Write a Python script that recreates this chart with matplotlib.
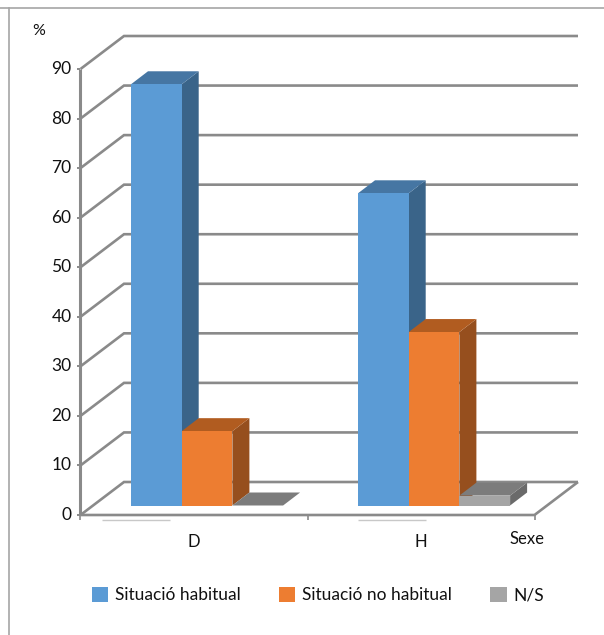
import matplotlib
matplotlib.use("Agg")
import matplotlib.pyplot as plt
from matplotlib.patches import Patch, Polygon
from matplotlib.lines import Line2D

plt.rcParams['font.family'] = ['Lato', 'DejaVu Sans']

# Dades llegides del grafic
categories = ['D', 'H']
series_names = ['Situació habitual', 'Situació no habitual', 'N/S']
habitual = [85, 63]
no_habitual = [15, 35]
ns = [0, 2]
y_ticks = [0, 10, 20, 30, 40, 50, 60, 70, 80, 90]

W, H = 604, 635
fig = plt.figure(figsize=(W / 100, H / 100), dpi=100)

# eixos situats en pixels: pla frontal del grafic
left, right, bottom, top = 80.5, 534.5, 515.0, 69.0
ax = fig.add_axes([left / W, 1 - bottom / H, (right - left) / W, (bottom - top) / H])
ax.set_xlim(0, 2)
ax.set_ylim(0, 90)
ax.axis('off')

px_x = 2 / (right - left)
px_y = 90 / (bottom - top)

# profunditat 3D
depth_x = 43.5 * px_x
depth_y = 33 * px_y
bar_dx = 17 * px_x
bar_dy = 13 * px_y
gap_dx = 13 * px_x
gap_dy = 9.5 * px_y
bar_w = 50.7 * px_x

GRID = '#8a8a8a'
front = ['#5b9bd5', '#ed7d31', '#a5a5a5']
top_c = ['#4676a3', '#b15c20', '#7c7c7c']
side_c = ['#3a6489', '#964f1e', '#6a6a6a']


def linia(xs, ys, color=GRID, lw=1.9, z=1):
    ax.add_line(Line2D(xs, ys, color=color, lw=lw, zorder=z, clip_on=False,
                       solid_capstyle='butt', solid_joinstyle='miter'))


# graella: paret del fons i paret esquerra
for v in y_ticks:
    linia([0, depth_x, 2 + depth_x], [v, v + depth_y, v + depth_y], z=1)
    linia([-3 * px_x, 0], [v, v], lw=1.4, z=2)
    ax.text(-9 * px_x, v, str(v), ha='right', va='center', fontsize=12.5,
            color='#111111', clip_on=False)

# eix vertical i terra
linia([0, 0], [0, 90], lw=2.2, z=2)
linia([0, 2, 2 + depth_x], [0, 0, depth_y], z=2)
for t in [0, 1, 2]:
    linia([t, t], [0, -5 * px_y], lw=1.2, z=2)

# barres amb cara frontal, superior i lateral
for g, cat in enumerate(categories):
    x0 = g + (131.0 - left) * px_x - 0.0
    for s, vals in enumerate([habitual, no_habitual, ns]):
        v = vals[g]
        xa = x0 + s * bar_w
        xb = xa + bar_w
        ya = gap_dy
        yb = gap_dy + v
        z = 5 + s
        ax.add_patch(Polygon([(xb, ya), (xb + bar_dx, ya + bar_dy),
                              (xb + bar_dx, yb + bar_dy), (xb, yb)],
                             fc=side_c[s], ec='none', zorder=z, clip_on=False))
        ax.add_patch(Polygon([(xa, yb), (xb, yb), (xb + bar_dx, yb + bar_dy),
                              (xa + bar_dx, yb + bar_dy)],
                             fc=top_c[s], ec='none', zorder=z, clip_on=False))
        ax.add_patch(Polygon([(xa, ya), (xb, ya), (xb, yb), (xa, yb)],
                             fc=front[s], ec='none', zorder=z, clip_on=False))
    ax.text(g + (194 - left) * px_x, -27 * px_y, cat, ha='center', va='center',
            fontsize=12, color='#111111', clip_on=False)
    # ratlleta clara sota l'eix
    linia([x0 + (-29 if g == 0 else 0) * px_x, x0 + (39 if g == 0 else 68) * px_x],
          [-5 * px_y, -5 * px_y], color='#c8c8c8', lw=1, z=2)

ax.text((527 - left) * px_x, -24 * px_y, 'Sexe', ha='center', va='center',
        fontsize=12, color='#111111', clip_on=False)
ax.text((39 - left) * px_x, (bottom - 31) * px_y, '%', ha='center', va='center',
        fontsize=11.5, color='#111111', clip_on=False)

# marc de la captura
fig.add_artist(Line2D([0, 1], [1 - 7.5 / H, 1 - 7.5 / H], color='#a6a6a6', lw=1.2))
fig.add_artist(Line2D([9 / W, 9 / W], [0, 1 - 7.5 / H], color='#a6a6a6', lw=1.2))

handles = [Patch(fc=c, ec='none') for c in front]
fig.legend(handles, series_names, ncol=3, loc='center', bbox_to_anchor=(318 / W, 1 - 595 / H),
           frameon=False, fontsize=12.5, handlelength=0.95, handleheight=0.95,
           handletextpad=0.4, columnspacing=2.2, labelcolor='#111111')

fig.savefig('out.png', dpi=100)
